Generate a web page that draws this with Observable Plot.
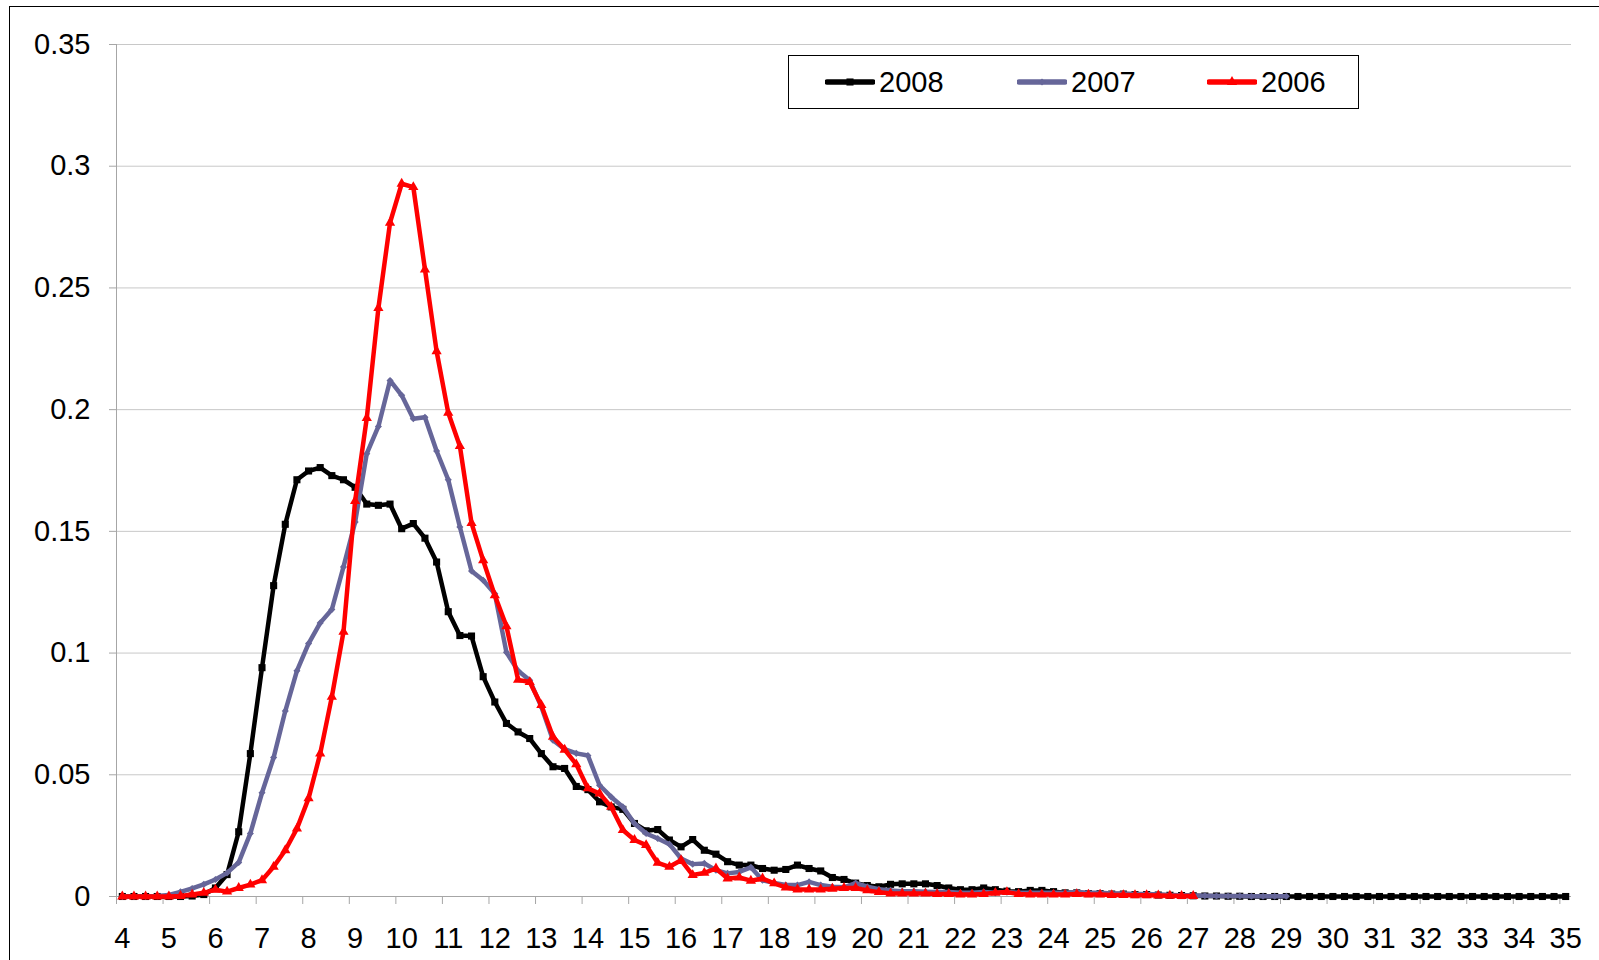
<!DOCTYPE html>
<html>
<head>
<meta charset="utf-8">
<script src="https://cdn.jsdelivr.net/npm/d3@7"></script>
<script src="https://cdn.jsdelivr.net/npm/@observablehq/plot@0.6"></script>
<style>
  html, body { margin: 0; padding: 0; background: #fff; }
  #wrap { position: relative; width: 1599px; height: 960px; overflow: hidden; font-family: "Liberation Sans", Arial, sans-serif; }
  #chart svg { display: block; }
  #frame { position: absolute; left: 9px; top: 6px; width: 1700px; height: 1100px; border: 1.5px solid #000; pointer-events: none; }
  #legend { position: absolute; left: 788px; top: 55px; width: 571px; height: 54px; box-sizing: border-box; border: 1px solid #000; background: #fff; font-size: 29px; color: #000; }
  .item { position: absolute; top: 0; height: 52px; display: flex; align-items: center; }
  .item svg { margin-right: 4px; }
</style>
</head>
<body>
<div id="wrap">
  <div id="chart"></div>
  <div id="legend"></div>
  <div id="frame"></div>
</div>
<script>
// Category positions (x axis, 0.25 steps)
const categories = [
  4,4.25,4.5,4.75, 5,5.25,5.5,5.75, 6,6.25,6.5,6.75, 7,7.25,7.5,7.75,
  8,8.25,8.5,8.75, 9,9.25,9.5,9.75, 10,10.25,10.5,10.75, 11,11.25,11.5,11.75,
  12,12.25,12.5,12.75, 13,13.25,13.5,13.75, 14,14.25,14.5,14.75, 15,15.25,15.5,15.75,
  16,16.25,16.5,16.75, 17,17.25,17.5,17.75, 18,18.25,18.5,18.75, 19,19.25,19.5,19.75,
  20,20.25,20.5,20.75, 21,21.25,21.5,21.75, 22,22.25,22.5,22.75, 23,23.25,23.5,23.75,
  24,24.25,24.5,24.75, 25,25.25,25.5,25.75, 26,26.25,26.5,26.75, 27,27.25,27.5,27.75,
  28,28.25,28.5,28.75, 29,29.25,29.5,29.75, 30,30.25,30.5,30.75, 31,31.25,31.5,31.75,
  32,32.25,32.5,32.75, 33,33.25,33.5,33.75, 34,34.25,34.5,34.75, 35
];

// Series values
const s2008 = [
  0,0,0,0,
  0,0,0.0002,0.0008,
  0.0035,0.009,0.0266,0.0587,
  0.094,0.1277,0.1529,0.1712,
  0.1748,0.1762,0.1729,0.1712,
  0.1681,0.1612,0.1607,0.1612,
  0.1511,0.1532,0.1472,0.1374,
  0.117,0.1072,0.107,0.0903,
  0.0799,0.0711,0.0676,0.0649,
  0.0587,0.0533,0.0526,0.0452,
  0.0439,0.0389,0.0368,0.0358,
  0.03,0.027,0.0275,0.0232,
  0.0204,0.0234,0.019,0.0174,
  0.0143,0.0129,0.0129,0.0115,
  0.0108,0.0111,0.0129,0.0115,
  0.0105,0.0078,0.007,0.0055,
  0.0045,0.004,0.005,0.0052,
  0.0052,0.0052,0.0045,0.0035,
  0.0028,0.0028,0.0035,0.0028,
  0.0022,0.002,0.0025,0.0025,
  0.002,0.0015,0.0015,0.0012,
  0.0012,0.001,0.001,0.0008,
  0.0008,0.0006,0.0005,0.0004,
  0.0003,0.0002,0.0002,0.0001,
  0.0001,0,0,0,
  0,0,0,0,
  0,0,0,0,
  0,0,0,0,
  0,0,0,0,
  0,0,0,0,
  0,0,0,0,
  0,0,0,0,
  0
];
const s2007 = [
  0,0,0,0.0002,
  0.0006,0.0019,0.0033,0.005,
  0.007,0.0097,0.014,0.0259,
  0.0426,0.0571,0.0762,0.0927,
  0.1039,0.1124,0.1179,0.1354,
  0.1538,0.1819,0.1931,0.212,
  0.2059,0.1963,0.1969,0.183,
  0.1712,0.1518,0.1337,0.1299,
  0.1244,0.1003,0.0927,0.0888,
  0.0779,0.0642,0.0605,0.0588,
  0.0579,0.0457,0.0409,0.0368,
  0.03,0.0259,0.0238,0.0215,
  0.0156,0.0133,0.0136,0.0108,
  0.0095,0.0101,0.012,0.0067,
  0.0056,0.0047,0.0047,0.006,
  0.0047,0.004,0.0038,0.0055,
  0.004,0.003,0.0025,0.0022,
  0.0022,0.002,0.0018,0.0018,
  0.0015,0.0015,0.0018,0.0015,
  0.0018,0.0015,0.0015,0.0015,
  0.0015,0.0015,0.0018,0.0015,
  0.0015,0.0012,0.0012,0.001,
  0.001,0.0008,0.0006,0.0005,
  0.0004,0.0003,0.0002,0.0002,
  0.0002,0.0001,0.0001,0.0001,
  0.0001
];
const s2006 = [
  0,0,0,0,
  0,0.0002,0.0008,0.0015,
  0.0028,0.002,0.0035,0.0049,
  0.0067,0.0122,0.019,0.0279,
  0.0403,0.0587,0.082,0.1087,
  0.1625,0.1965,0.2417,0.2768,
  0.2928,0.2914,0.2576,0.224,
  0.1987,0.185,0.1534,0.1381,
  0.1237,0.111,0.089,0.0881,
  0.0786,0.0656,0.0603,0.0543,
  0.0444,0.0423,0.0368,0.0273,
  0.0232,0.0211,0.0138,0.0122,
  0.0149,0.0088,0.0097,0.0115,
  0.0074,0.0078,0.0065,0.0074,
  0.0054,0.0037,0.0029,0.0029,
  0.0029,0.0032,0.0035,0.0035,
  0.0025,0.0018,0.0012,0.0012,
  0.0012,0.0012,0.001,0.001,
  0.0008,0.0008,0.001,0.0015,
  0.0018,0.001,0.0008,0.0008,
  0.0008,0.0008,0.001,0.0008,
  0.0008,0.0006,0.0006,0.0005,
  0.0005,0.0004,0.0003,0.0002,
  0.0002
];

// Tick labels
const xTickLabels = [4,5,6,7,8,9,10,11,12,13,14,15,16,17,18,19,20,21,22,23,24,25,26,27,28,29,30,31,32,33,34,35];
const yTicks = [0, 0.05, 0.1, 0.15, 0.2, 0.25, 0.3, 0.35];
const yTickLabels = ["0", "0.05", "0.1", "0.15", "0.2", "0.25", "0.3", "0.35"];

const seriesNames = ["2008", "2007", "2006"];
const seriesColors = ["#000000", "#666699", "#ff0000"];
const seriesSymbols = ["square", "diamond2", "triangle"];

const half = (categories[1] - categories[0]) / 2;
const rows = (vals) => vals.map((y, i) => ({x: categories[i], y}));
const data = [rows(s2008), rows(s2007), rows(s2006)];
const tickBoundaries = xTickLabels.map(d => d - half);

const axisGray = "#a6a6a6";
const markerR = [4, 3.2, 3.8];

const seriesMarks = data.flatMap((d, k) => [
  Plot.line(d, {x: "x", y: "y", stroke: seriesColors[k], strokeWidth: 4.5, strokeLinejoin: "round", strokeLinecap: "round"}),
  Plot.dot(d, {x: "x", y: "y", symbol: seriesSymbols[k], r: markerR[k], fill: seriesColors[k], stroke: "none"})
]);

const chart = Plot.plot({
  width: 1599,
  height: 960,
  marginLeft: 116,
  marginRight: 28,
  marginTop: 44,
  marginBottom: 64,
  style: {fontFamily: "'Liberation Sans', Arial, sans-serif", fontSize: "29px", color: "#000", background: "#fff", overflow: "visible"},
  x: {domain: [categories[0] - half, categories[categories.length - 1] + half]},
  y: {domain: [0, 0.35]},
  marks: [
    Plot.gridY(yTicks.slice(1), {stroke: "#c8c8c8", strokeOpacity: 1, strokeWidth: 1}),
    Plot.ruleX([categories[0] - half], {stroke: axisGray, strokeWidth: 1}),
    Plot.axisY(yTicks, {label: null, tickSize: 7, tickPadding: 19, stroke: axisGray, fill: "#000", tickFormat: (d, i) => yTickLabels[i]}),
    Plot.ruleY([0], {stroke: axisGray, strokeWidth: 1}),
    Plot.axisX(tickBoundaries, {label: null, tickSize: 8, stroke: axisGray, tickFormat: () => ""}),
    Plot.axisX(xTickLabels, {label: null, tickSize: 0, tickPadding: 31, fill: "#000", tickFormat: d => String(d)}),
    ...seriesMarks
  ]
});
document.getElementById("chart").appendChild(chart);

// Legend
const legend = document.getElementById("legend");
const sampleX = [36, 228, 418];
const symbolPath = {
  square: d3.symbol(d3.symbolSquare, Math.PI * 4 * 4)(),
  diamond2: d3.symbol(d3.symbolDiamond2, Math.PI * 3.2 * 3.2)(),
  triangle: d3.symbol(d3.symbolTriangle, Math.PI * 3.8 * 3.8)()
};
seriesNames.forEach((name, k) => {
  const item = document.createElement("div");
  item.className = "item";
  item.style.left = sampleX[k] + "px";
  item.innerHTML =
    `<svg width="50" height="14" viewBox="0 0 50 14">
       <line x1="2" y1="7" x2="48" y2="7" stroke="${seriesColors[k]}" stroke-width="5.5" stroke-linecap="round"/>
       <path d="${symbolPath[seriesSymbols[k]]}" transform="translate(25,7)" fill="${seriesColors[k]}"/>
     </svg><span>${name}</span>`;
  legend.appendChild(item);
});
</script>
</body>
</html>
